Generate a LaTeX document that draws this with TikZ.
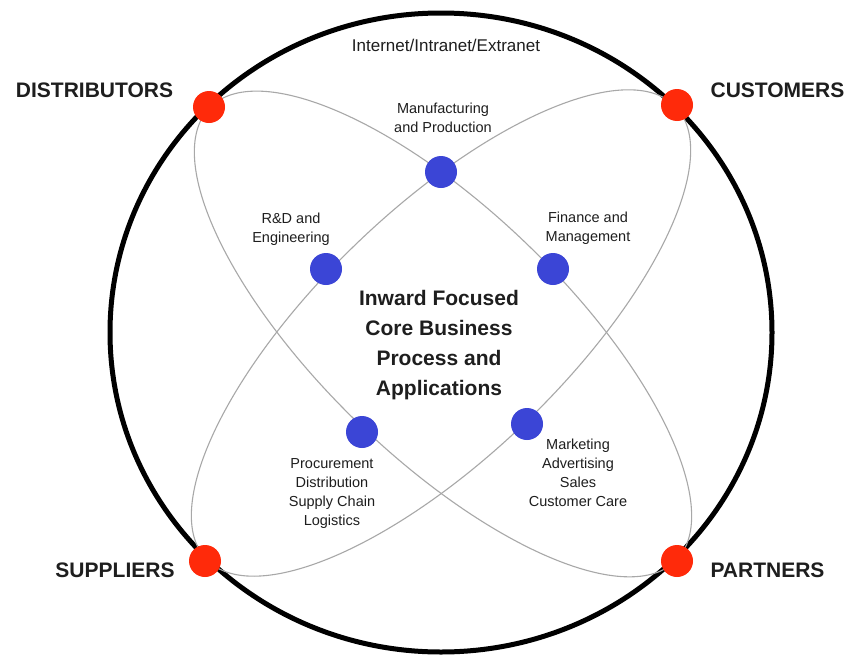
\documentclass[tikz,border=0pt]{standalone}
\usepackage{fontspec}
\setmainfont{Liberation Sans}
\definecolor{reddot}{HTML}{FF2A0A}
\definecolor{bluedot}{HTML}{3B45D6}
\definecolor{orbit}{HTML}{A8A8A8}
\definecolor{txt}{HTML}{1E1E1E}
\begin{document}
\begin{tikzpicture}[x=1pt,y=-1pt,
  reddotst/.style={circle,fill=reddot,draw=none,minimum size=32pt,inner sep=0pt},
  bluedotst/.style={circle,fill=bluedot,draw=none,minimum size=32pt,inner sep=0pt},
  biglabel/.style={text=txt,font=\bfseries\fontsize{21}{25}\selectfont,inner sep=0pt},
  smalllabel/.style={text=txt,font=\fontsize{14.5}{19}\selectfont,align=center,inner sep=0pt},
  orbitline/.style={draw=orbit,line width=1.1pt}]
\useasboundingbox (0,0) rectangle (849,656);
\fill[white] (0,0) rectangle (849,656);
% outer network ring
\draw[line width=5pt,black] (441,332.5) ellipse [x radius=331, y radius=319.5];
% orbits
\coordinate (ca) at (443,334);
\coordinate (cb) at (441,333);
\draw[orbitline,rotate around={-44.1:(ca)}] (ca) ellipse [x radius=325, y radius=123];
\draw[orbitline,rotate around={44.0:(cb)}] (cb) ellipse [x radius=326, y radius=123];
% red dots
\node[reddotst] (dist) at (209,107) {};
\node[reddotst] (cust) at (677,105) {};
\node[reddotst] (supp) at (205,561) {};
\node[reddotst] (part) at (677,561) {};
% blue dots
\node[bluedotst] (manu) at (441,172) {};
\node[bluedotst] (rd) at (326,269) {};
\node[bluedotst] (fin) at (553,269) {};
\node[bluedotst] (proc) at (362,432) {};
\node[bluedotst] (mark) at (527,424) {};
% big labels
\node[biglabel] (ldist) at (94.5,90) {DISTRIBUTORS};
\node[biglabel] (lcust) at (777.5,90) {CUSTOMERS};
\node[biglabel] (lsupp) at (115,570) {SUPPLIERS};
\node[biglabel] (lpart) at (767.5,570) {PARTNERS};
% small labels
\node[text=txt,font=\fontsize{17}{20}\selectfont,inner sep=0pt] (net) at (446,45) {Internet/Intranet/Extranet};
\node[smalllabel] (lmanu) at (443,117.5) {Manufacturing\\and Production};
\node[smalllabel] (lrd) at (291,229) {R\&D and\\Engineering};
\node[smalllabel] (lfin) at (588,228) {Finance and\\Management};
\node[smalllabel] (lproc) at (332,494) {Procurement\\Distribution\\Supply Chain\\Logistics};
\node[smalllabel] (lmark) at (578,473) {Marketing\\Advertising\\Sales\\Customer Care};
% centre text
\node[text=txt,font=\bfseries\fontsize{21}{30}\selectfont,align=center,inner sep=0pt] (core) at (439,345) {Inward Focused\\Core Business\\Process and\\Applications};
\end{tikzpicture}
\end{document}
